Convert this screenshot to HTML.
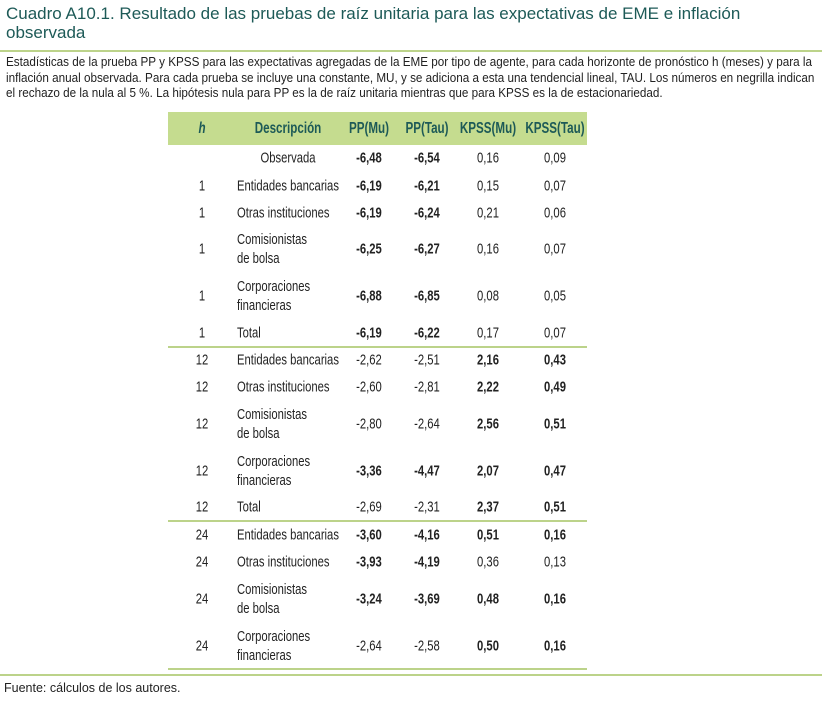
<!DOCTYPE html>
<html><head><meta charset="utf-8">
<style>
body{margin:0;width:822px;height:707px;background:#fff;position:relative;overflow:hidden;font-family:"Liberation Sans",sans-serif;color:#222}
.a{position:absolute;white-space:nowrap}
.t{font-size:17px;color:#1d5a57;left:6px}
.d{font-size:12.5px;left:6px;color:#222;transform-origin:0 0}
.hline{position:absolute;height:2px;background:#bcd38a}
.c{position:absolute;transform:translate(-50%,-50%) scaleX(.75);font-size:15px;white-space:nowrap}
.l{position:absolute;transform:translateY(-50%) scaleX(.75);transform-origin:0 50%;font-size:15px;line-height:19px;white-space:nowrap}
.b{font-weight:bold}
.hd{font-weight:bold;color:#1d5a57;font-size:15.5px}
</style></head><body>
<div class="a t" style="top:4px">Cuadro A10.1. Resultado de las pruebas de raíz unitaria para las expectativas de EME e inflación</div>
<div class="a t" style="top:23px">observada</div>
<div class="hline" style="left:0;top:50px;width:822px"></div>
<div id="desc" class="a d" style="top:55px;line-height:15.5px"><span id="dl1">Estadísticas de la prueba PP y KPSS para las expectativas agregadas de la EME por tipo de agente, para cada horizonte de pronóstico h (meses) y para la</span><br>inflación anual observada. Para cada prueba se incluye una constante, MU, y se adiciona a esta una tendencial lineal, TAU. Los números en negrilla indican<br>el rechazo de la nula al 5 %. La hipótesis nula para PP es la de raíz unitaria mientras que para KPSS es la de estacionariedad.</div>
<div class="a" style="left:168px;top:112px;width:419px;height:33px;background:#c5dc8f"></div>
<div id="tbl"></div>
<div class="hline" style="left:0;top:674px;width:822px"></div>
<div class="a" style="left:4px;top:681px;font-size:12.5px">Fuente: cálculos de los autores.</div>
<script>
const headers=["h","Descripción","PP(Mu)","PP(Tau)","KPSS(Mu)","KPSS(Tau)"];
const hVals=["","1","1","1","1","1","12","12","12","12","12","24","24","24","24"];
const descs=["Observada","Entidades bancarias","Otras instituciones","Comisionistas|de bolsa","Corporaciones|financieras","Total","Entidades bancarias","Otras instituciones","Comisionistas|de bolsa","Corporaciones|financieras","Total","Entidades bancarias","Otras instituciones","Comisionistas|de bolsa","Corporaciones|financieras"];
const ppMu=["-6,48","-6,19","-6,19","-6,25","-6,88","-6,19","-2,62","-2,60","-2,80","-3,36","-2,69","-3,60","-3,93","-3,24","-2,64"];
const ppTau=["-6,54","-6,21","-6,24","-6,27","-6,85","-6,22","-2,51","-2,81","-2,64","-4,47","-2,31","-4,16","-4,19","-3,69","-2,58"];
const kMu=["0,16","0,15","0,21","0,16","0,08","0,17","2,16","2,22","2,56","2,07","2,37","0,51","0,36","0,48","0,50"];
const kTau=["0,09","0,07","0,06","0,07","0,05","0,07","0,43","0,49","0,51","0,47","0,51","0,16","0,13","0,16","0,16"];
const boldMask=[[1,1,0,0],[1,1,0,0],[1,1,0,0],[1,1,0,0],[1,1,0,0],[1,1,0,0],[0,0,1,1],[0,0,1,1],[0,0,1,1],[1,1,1,1],[0,0,1,1],[1,1,1,1],[1,1,0,0],[1,1,1,1],[0,0,1,1]];
const rowY=[158,186,213,249,296,333,360,387,424,471,507,535,562,599,646];
const rules=[346,520,668];
const colX=[202,0,369,427,488,555];
const dl=document.getElementById('dl1');
const s=806/dl.getBoundingClientRect().width;
document.getElementById('desc').style.transform='scaleX('+s+')';
const T=document.getElementById('tbl');
function mk(cls,txt,x,y){const e=document.createElement('div');e.className=cls;e.innerHTML=txt;e.style.left=x+'px';e.style.top=y+'px';T.appendChild(e);return e;}
headers.forEach((h,i)=>{const e=mk('c hd',h,i==1?288:colX[i],129);if(i==0)e.style.fontStyle='italic';

});
rowY.forEach((y,r)=>{
 if(hVals[r]){const e=mk('c',hVals[r],colX[0],y);
 
 }
 const e=r==0?mk('c',descs[r],288,y):mk('l',descs[r].replace('|','<br>'),237,y);
 
 
 [ppMu,ppTau,kMu,kTau].forEach((arr,k)=>{const c=mk('c'+(boldMask[r][k]?' b':''),arr[r],colX[k+2],y);
 
 });
});
rules.forEach(y=>{const e=document.createElement('div');e.className='hline';e.style.cssText='left:168px;width:419px;top:'+y+'px';


T.appendChild(e);});
</script>
</body></html>
